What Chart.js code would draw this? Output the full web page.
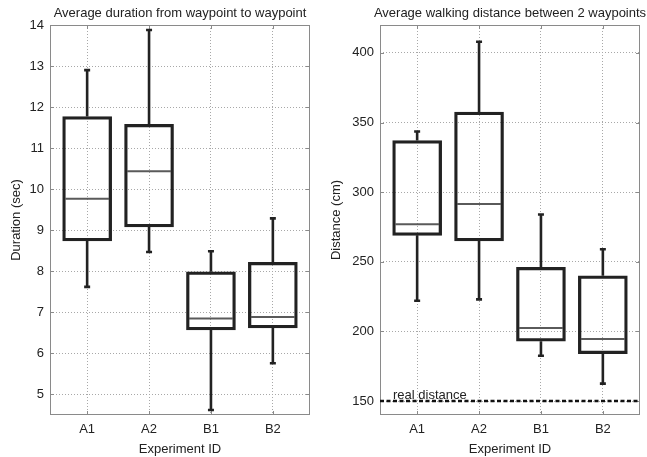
<!DOCTYPE html>
<html>
<head>
<meta charset="utf-8">
<script src="https://cdn.jsdelivr.net/npm/chart.js@4.4.0/dist/chart.umd.min.js"></script>
<style>
    html, body { margin: 0; padding: 0; background: #fff; }
    #wrap { position: relative; width: 647px; height: 457px; }
    .pane { position: absolute; top: 0; height: 457px; }
</style>
</head>
<body>
<div id="wrap">
    <div class="pane" style="left:0;width:323px"><canvas id="durChart"></canvas></div>
    <div class="pane" style="left:323px;width:324px"><canvas id="distChart"></canvas></div>
</div>
<script>
// ============================================================
// data
// ============================================================
const experiments = ['A1', 'A2', 'B1', 'B2'];

// Average duration (sec)
const durMin    = [7.62, 8.47, 4.62, 5.76];
const durQ1     = [8.74, 9.08, 6.57, 6.62];
const durMedian = [9.77, 10.44, 6.85, 6.89];
const durQ3     = [11.77, 11.58, 7.99, 8.22];
const durMax    = [12.9, 13.88, 8.49, 9.29];
const durTicks  = [5, 6, 7, 8, 9, 10, 11, 12, 13, 14];

// Average walking distance (cm)
const distMin    = [222, 223, 182.5, 162.5];
const distQ1     = [269, 265, 193, 184];
const distMedian = [277, 291.5, 202.5, 194.5];
const distQ3     = [337, 357.5, 246, 240];
const distMax    = [343.5, 408, 284, 259];
const distTicks  = [150, 200, 250, 300, 350, 400];

const realDistance = 150;

const FONT = '"Liberation Sans", Arial, Helvetica, sans-serif';
Chart.defaults.font.family = FONT;
Chart.defaults.font.size = 13;
Chart.defaults.color = '#222';

const boxColor = '#222';
const medianColor = '#5a5a5a';

// whiskers, medians, frame, tick marks, title, reference line
const boxExtras = {
    id: 'boxExtras',
    afterDatasetsDraw(chart, args, o) {
        const { ctx, chartArea: a, scales: { x, y } } = chart;
        ctx.save();
        // frame + inward tick marks
        ctx.strokeStyle = '#8a8a8a';
        ctx.lineWidth = 1;
        ctx.strokeRect(a.left + 0.5, a.top + 0.5, a.width - 1, a.height - 1);
        ctx.beginPath();
        x.ticks.forEach(t => {
            const px = Math.round(x.getPixelForValue(t.value)) + 0.5;
            ctx.moveTo(px, a.bottom); ctx.lineTo(px, a.bottom - 4);
            ctx.moveTo(px, a.top); ctx.lineTo(px, a.top + 4);
        });
        y.ticks.forEach(t => {
            const py = Math.round(y.getPixelForValue(t.value)) + 0.5;
            ctx.moveTo(a.left, py); ctx.lineTo(a.left + 4, py);
            ctx.moveTo(a.right, py); ctx.lineTo(a.right - 4, py);
        });
        ctx.stroke();

        // reference line
        if (o.refLine != null) {
            const ry = y.getPixelForValue(o.refLine);
            ctx.strokeStyle = '#111';
            ctx.lineWidth = 2.5;
            ctx.setLineDash([4, 2.5]);
            ctx.beginPath();
            ctx.moveTo(a.left, ry);
            ctx.lineTo(a.right, ry);
            ctx.stroke();
            ctx.setLineDash([]);
            ctx.fillStyle = '#222';
            ctx.font = '13px ' + FONT;
            ctx.textAlign = 'left';
            ctx.textBaseline = 'alphabetic';
            ctx.fillText(o.refLabel, a.left + 13, ry - 2.5);
        }

        const half = o.boxWidth / 2;
        o.stats.median.forEach((m, i) => {
            const cx = x.getPixelForValue(i + 1);
            const yMin = y.getPixelForValue(o.stats.min[i]);
            const yQ1 = y.getPixelForValue(o.stats.q1[i]);
            const yQ3 = y.getPixelForValue(o.stats.q3[i]);
            const yMax = y.getPixelForValue(o.stats.max[i]);
            const yMed = y.getPixelForValue(m);

            ctx.strokeStyle = boxColor;
            ctx.lineWidth = 2.6;
            ctx.beginPath();
            ctx.moveTo(cx, yQ3); ctx.lineTo(cx, yMax);
            ctx.moveTo(cx - 3, yMax); ctx.lineTo(cx + 3, yMax);
            ctx.moveTo(cx, yQ1); ctx.lineTo(cx, yMin);
            ctx.moveTo(cx - 3, yMin); ctx.lineTo(cx + 3, yMin);
            ctx.stroke();

            ctx.strokeStyle = medianColor;
            ctx.lineWidth = 2;
            ctx.beginPath();
            ctx.moveTo(cx - half + 2.5, yMed);
            ctx.lineTo(cx + half - 2.5, yMed);
            ctx.stroke();
        });

        // title centred over plot area
        ctx.fillStyle = '#222';
        ctx.font = '13px ' + FONT;
        ctx.textAlign = 'center';
        ctx.textBaseline = 'middle';
        ctx.fillText(o.title, (a.left + a.right) / 2, 13);
        ctx.restore();
    }
};

function makeBoxChart(canvasId, cfg) {
    const boxWidth = 49;
    return new Chart(document.getElementById(canvasId), {
        type: 'bar',
        data: {
            datasets: [{
                data: experiments.map((_, i) => ({ x: i + 1, y: [cfg.q1[i], cfg.q3[i]] })),
                backgroundColor: 'rgba(0,0,0,0)',
                borderColor: boxColor,
                borderWidth: 2.6,
                borderSkipped: false,
                barThickness: boxWidth,
            }],
        },
        options: {
            responsive: true,
            maintainAspectRatio: false,
            animation: false,
            layout: { padding: { top: 25, right: cfg.padRight, bottom: 0, left: 0 } },
            plugins: {
                legend: { display: false },
                tooltip: { enabled: false },
                boxExtras: {
                    title: cfg.title,
                    boxWidth,
                    refLine: cfg.refLine,
                    refLabel: cfg.refLabel,
                    stats: { min: cfg.min, q1: cfg.q1, median: cfg.median, q3: cfg.q3, max: cfg.max },
                },
            },
            scales: {
                x: {
                    type: 'linear',
                    min: 0.4,
                    max: 4.6,
                    offset: false,
                    afterBuildTicks: s => { s.ticks = experiments.map((_, i) => ({ value: i + 1 })); },
                    afterFit: s => { s.height = 42; },
                    ticks: { callback: v => experiments[v - 1], padding: 7 },
                    grid: { color: '#a8a8a8', lineWidth: 1, drawTicks: false, offset: false },
                    border: { display: false, dash: [1, 2] },
                    title: { display: true, text: 'Experiment ID', padding: { top: 0, bottom: 0 } },
                },
                y: {
                    min: cfg.yMin,
                    max: cfg.yMax,
                    afterBuildTicks: s => { s.ticks = cfg.ticks.map(v => ({ value: v })); },
                    afterFit: s => { s.width = cfg.yWidth; },
                    ticks: { padding: 6 },
                    grid: { color: '#a8a8a8', lineWidth: 1, drawTicks: false },
                    border: { display: false, dash: [1, 2] },
                    title: { display: true, text: cfg.yTitle, padding: { top: cfg.yTitlePad, bottom: 0 } },
                },
            },
        },
        plugins: [boxExtras],
    });
}

makeBoxChart('durChart', {
    title: 'Average duration from waypoint to waypoint',
    yTitle: 'Duration (sec)',
    min: durMin, q1: durQ1, median: durMedian, q3: durQ3, max: durMax,
    ticks: durTicks, yMin: 4.5, yMax: 14,
    yWidth: 50, yTitlePad: 9, padRight: 13,
});

makeBoxChart('distChart', {
    title: 'Average walking distance between 2 waypoints',
    yTitle: 'Distance (cm)',
    min: distMin, q1: distQ1, median: distMedian, q3: distQ3, max: distMax,
    ticks: distTicks, yMin: 140, yMax: 420,
    yWidth: 57, yTitlePad: 6, padRight: 7,
    refLine: realDistance, refLabel: 'real distance',
});
</script>
</body>
</html>
